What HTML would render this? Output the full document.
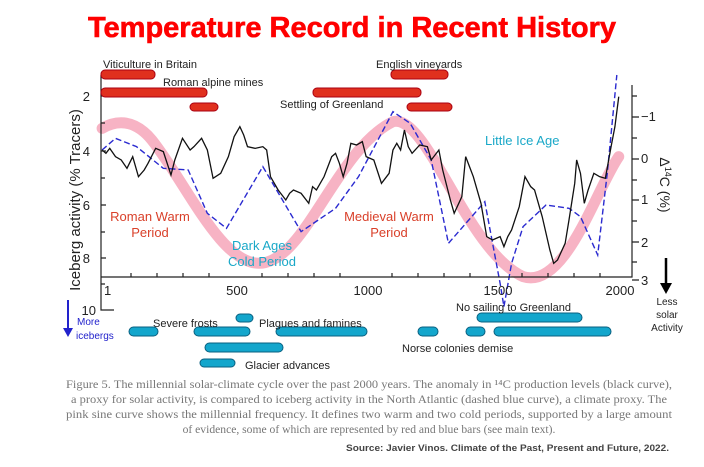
<!DOCTYPE html>
<html><head><meta charset="utf-8"><style>
body{margin:0;width:704px;height:467px;background:#fff;overflow:hidden}
svg{display:block}
</style></head><body>
<svg width="704" height="467" viewBox="0 0 704 467" font-family="Liberation Sans, sans-serif">
<text x="352" y="37" text-anchor="middle" font-size="29" font-weight="bold" fill="#f00" stroke="#f00" stroke-width="0.6">Temperature Record in Recent History</text>

<g transform="translate(60,50) scale(0.3827,0.3333)">
<path d="M110,235 C140,215 190,200 240,270 C330,400 420,640 520,640 C640,640 720,300 870,215 C960,190 1060,600 1210,680 C1320,720 1400,420 1460,320" fill="none" stroke="#f7b3c4" stroke-width="11" vector-effect="non-scaling-stroke" stroke-linecap="round"/>
<polyline fill="none" stroke="#2a2ad0" stroke-width="1.4" stroke-dasharray="6,3" vector-effect="non-scaling-stroke" points="110,300 145,265 200,290 270,355 335,360 385,490 435,535 530,350 630,545 720,475 780,380 870,185 915,220 970,330 1015,580 1110,455 1150,700 1160,770 1180,640 1210,530 1270,465 1330,475 1360,500 1405,615 1430,370 1455,75"/>
<polyline fill="none" stroke="#111" stroke-width="1.3" vector-effect="non-scaling-stroke" points="110,300 120,310 130,295 145,320 160,330 175,355 190,320 205,380 220,360 230,340 250,295 270,305 290,375 300,330 320,265 340,300 350,290 370,265 385,300 400,385 420,370 440,320 455,260 470,230 480,255 490,290 510,295 530,290 540,300 550,380 570,420 590,450 600,430 610,420 630,430 650,460 660,410 670,420 690,380 710,320 720,310 730,340 740,380 750,340 760,280 775,285 790,275 800,320 820,330 840,400 860,370 870,300 880,280 890,300 900,240 910,290 920,310 940,285 960,290 970,330 990,300 1000,360 1020,450 1030,490 1050,440 1060,320 1070,350 1080,380 1100,460 1115,560 1130,570 1150,560 1160,590 1170,560 1180,540 1200,470 1215,380 1230,410 1240,420 1260,500 1280,600 1290,640 1300,630 1320,580 1330,510 1345,400 1350,330 1360,370 1370,460 1380,420 1395,370 1410,380 1425,385 1440,290 1450,230 1460,140"/>
</g>

<g stroke="#222" stroke-width="1.2" fill="none">
<path d="M101,75 V310 H114"/>
<path d="M101,277 H632 V85"/>
<path d="M101,96 h5 M101,123 h4 M101,151 h5 M101,178 h4 M101,205 h5 M101,232 h4 M101,258 h5 M101,284 h4"/>
<path d="M632,96 h5 M632,117 h7 M632,138 h5 M632,159 h7 M632,180 h5 M632,200 h7 M632,221 h5 M632,242 h7 M632,262 h5 M632,280 h7"/>
<path d="M131,277 v-4 M157,277 v-4 M183,277 v-4 M209,277 v-4 M262,277 v-4 M288,277 v-4 M314,277 v-4 M340,277 v-4 M392,277 v-4 M418,277 v-4 M444,277 v-4 M470,277 v-4 M522,277 v-4 M548,277 v-4 M574,277 v-4 M600,277 v-4"/>
</g>
<g font-size="13" fill="#222">
<text x="90" y="101" text-anchor="end">2</text><text x="90" y="156" text-anchor="end">4</text><text x="90" y="210" text-anchor="end">6</text><text x="90" y="263" text-anchor="end">8</text><text x="96" y="315" text-anchor="end">10</text>
<text x="104" y="295">1</text><text x="237" y="295" text-anchor="middle">500</text><text x="368" y="295" text-anchor="middle">1000</text><text x="498" y="295" text-anchor="middle">1500</text><text x="620" y="295" text-anchor="middle">2000</text>
<text x="641" y="121">−1</text><text x="641" y="163">0</text><text x="641" y="204">1</text><text x="641" y="247">2</text><text x="641" y="285">3</text>
</g>
<text transform="translate(80,200) rotate(-90)" text-anchor="middle" font-size="15" fill="#222">Iceberg activity (% Tracers)</text>
<text transform="translate(660,185) rotate(90)" text-anchor="middle" font-size="14" fill="#222">Δ<tspan font-size="9" dy="-5">14</tspan><tspan dy="5">C (%)</tspan></text>
<path d="M666,258 V285" stroke="#000" stroke-width="2.5"/><path d="M660,283 L666,294 L672,283Z" fill="#000"/>
<g font-size="10" fill="#222" text-anchor="middle"><text x="667" y="305">Less</text><text x="667" y="318">solar</text><text x="667" y="331">Activity</text></g>
<path d="M68,300 V330" stroke="#2222cc" stroke-width="2"/><path d="M63,328 L68,337 L73,328Z" fill="#2222cc"/>
<g font-size="10" fill="#2222cc"><text x="77" y="325">More</text><text x="76" y="339">icebergs</text></g>

<g fill="#e0301e" stroke="#a01">
<rect x="101" y="70" width="54" height="9" rx="4"/><rect x="101" y="88" width="106" height="9" rx="4"/><rect x="190" y="103" width="28" height="8" rx="4"/>
<rect x="313" y="88" width="108" height="9" rx="4"/><rect x="391" y="70" width="57" height="9" rx="4"/><rect x="407" y="103" width="45" height="8" rx="4"/>
</g>
<g fill="#13a6cc" stroke="#0a6080">
<rect x="477" y="313" width="105" height="9" rx="4.5"/><rect x="236" y="314" width="17" height="8" rx="4"/>
<rect x="129" y="327" width="29" height="9" rx="4.5"/><rect x="194" y="327" width="56" height="9" rx="4.5"/><rect x="276" y="327" width="91" height="9" rx="4.5"/>
<rect x="418" y="327" width="20" height="9" rx="4.5"/><rect x="466" y="327" width="19" height="9" rx="4.5"/><rect x="494" y="327" width="117" height="9" rx="4.5"/>
<rect x="205" y="343" width="78" height="9" rx="4.5"/><rect x="200" y="359" width="35" height="8" rx="4"/>
</g>
<g font-size="11" fill="#222">
<text x="103" y="68">Viticulture in Britain</text><text x="163" y="86">Roman alpine mines</text>
<text x="376" y="68">English vineyards</text><text x="280" y="108">Settling of Greenland</text>
<text x="153" y="327">Severe frosts</text><text x="259" y="327">Plagues and famines</text>
<text x="456" y="311">No sailing to Greenland</text><text x="402" y="352">Norse colonies demise</text>
<text x="245" y="369">Glacier advances</text>
</g>
<g font-size="13" text-anchor="middle">
<text x="485" y="145" fill="#1aa8c8" text-anchor="start">Little Ice Age</text>
<text x="150" y="221" fill="#d9402a">Roman Warm</text><text x="150" y="237" fill="#d9402a">Period</text>
<text x="389" y="221" fill="#d9402a">Medieval Warm</text><text x="389" y="237" fill="#d9402a">Period</text>
<text x="262" y="250" fill="#1aa8c8">Dark Ages</text><text x="262" y="266" fill="#1aa8c8">Cold Period</text>
</g>
<g font-family="Liberation Serif, serif" font-size="11.6" fill="#777" text-anchor="middle">
<text x="369" y="388" textLength="606" lengthAdjust="spacingAndGlyphs">Figure 5. The millennial solar-climate cycle over the past 2000 years. The anomaly in ¹⁴C production levels (black curve),</text>
<text x="369" y="403" textLength="596" lengthAdjust="spacingAndGlyphs">a proxy for solar activity, is compared to iceberg activity in the North Atlantic (dashed blue curve), a climate proxy. The</text>
<text x="369" y="418" textLength="606" lengthAdjust="spacingAndGlyphs">pink sine curve shows the millennial frequency. It defines two warm and two cold periods, supported by a large amount</text>
<text x="369" y="433">of evidence, some of which are represented by red and blue bars (see main text).</text>
</g>
<text x="669" y="451" text-anchor="end" font-size="9" font-weight="bold" fill="#444" textLength="323" lengthAdjust="spacingAndGlyphs">Source: Javier Vinos.  Climate of the Past, Present and Future, 2022.</text>
</svg>
</body></html>
